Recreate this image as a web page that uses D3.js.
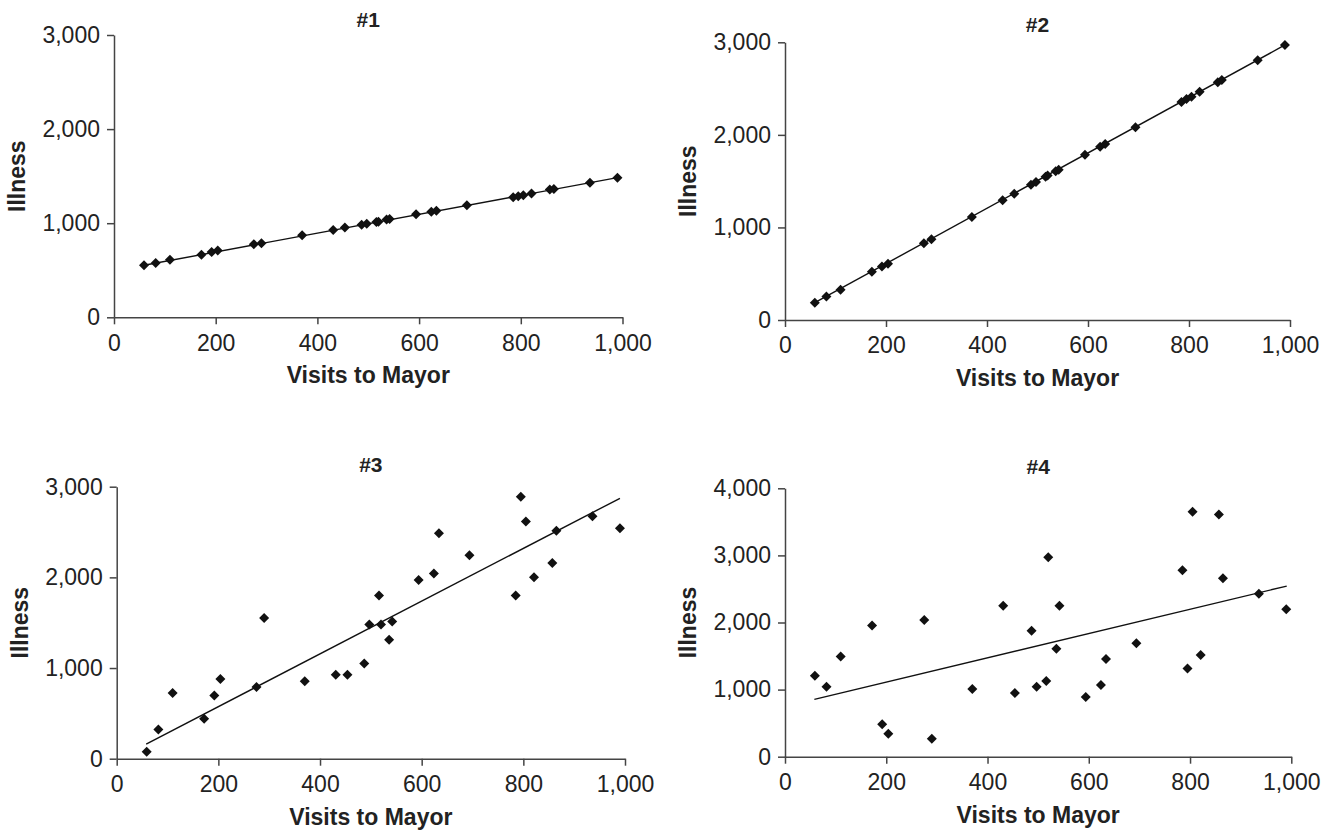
<!DOCTYPE html>
<html>
<head>
<meta charset="utf-8">
<script src="https://cdn.jsdelivr.net/npm/d3@7"></script>
<style>
  body { margin: 0; background: #fff; }
  svg { display: block; font-family: "Liberation Sans", Arial, sans-serif; }
  .tick text { font-size: 23px; fill: #222; }
  .axis path, .axis line { stroke: #444; stroke-width: 1.5; }
  .titre { font-size: 21px; font-weight: bold; fill: #222; }
  .label { font-size: 23px; font-weight: bold; fill: #222; }
</style>
</head>
<body>
<svg class="chart" width="1330" height="831"></svg>
<script>
// visits to mayor (same for the four panels)
const visits = [59, 82, 110, 172, 192, 204, 275, 290, 370, 431, 454, 487, 497, 516, 520, 536, 542, 594, 624, 634, 694, 785, 795, 805, 821, 857, 865, 936, 990];

// illness, one list per panel
const illness1 = [553, 578, 612, 665, 693, 709, 777, 788, 872, 929, 954, 984, 994, 1012, 1016, 1038, 1044, 1095, 1121, 1131, 1190, 1277, 1286, 1297, 1315, 1357, 1364, 1430, 1484];
const illness2 = [187, 255, 326, 520, 578, 608, 830, 872, 1112, 1295, 1365, 1462, 1490, 1547, 1561, 1608, 1624, 1786, 1872, 1901, 2082, 2355, 2387, 2413, 2465, 2568, 2592, 2806, 2971];
const illness3 = [77, 322, 725, 440, 696, 879, 791, 1553, 853, 927, 927, 1051, 1480, 1799, 1480, 1311, 1513, 1971, 2044, 2487, 2245, 1799, 2890, 2615, 2000, 2158, 2513, 2674, 2542];
const illness4 = [1207, 1043, 1495, 1957, 482, 343, 2037, 268, 1008, 2250, 949, 1878, 1043, 1128, 2971, 1609, 2250, 889, 1068, 1456, 1689, 2777, 1316, 3651, 1515, 3611, 2658, 2429, 2196];

// trend line ends [visits, illness]
const trend1 = [[59, 553], [990, 1484]];
const trend2 = [[59, 187], [990, 2971]];
const trend3 = [[58, 161], [990, 2872]];
const trend4 = [[58, 854], [991, 2543]];

const titres = ["#1", "#2", "#3", "#4"];
const xTicks = [0, 200, 400, 600, 800, 1000];
const yTicks3 = [0, 1000, 2000, 3000];
const yTicks4 = [0, 1000, 2000, 3000, 4000];

const xLabel = "Visits to Mayor";
const yLabel = "Illness";

// position of each plot area in the page
const panels = [
  { titre: titres[0], ys: illness1, trend: trend1, yTicks: yTicks3, left: 114, right: 622.5, top: 35, bottom: 317.3, titreY: 20 },
  { titre: titres[1], ys: illness2, trend: trend2, yTicks: yTicks3, left: 785, right: 1290, top: 42.3, bottom: 320, titreY: 25 },
  { titre: titres[2], ys: illness3, trend: trend3, yTicks: yTicks3, left: 116.7, right: 625, top: 486.7, bottom: 758.7, titreY: 465 },
  { titre: titres[3], ys: illness4, trend: trend4, yTicks: yTicks4, left: 785, right: 1291.3, top: 488.3, bottom: 756.7, titreY: 467 }
];

const svg = d3.select(".chart");
const fmt = d3.format(",");

const losange = d3.symbol().type(d3.symbolSquare).size(50);

panels.forEach(p => {
  const x = d3.scaleLinear()
      .domain([0, 1000])
      .range([p.left, p.right]);

  const y = d3.scaleLinear()
      .domain([0, d3.max(p.yTicks)])
      .range([p.bottom, p.top]);

  const g = svg.append("g");

  // axes
  g.append("g")
      .attr("class", "axis")
      .attr("transform", `translate(0, ${p.bottom})`)
      .call(d3.axisBottom(x).tickValues(xTicks).tickFormat(fmt).tickSize(7).tickSizeOuter(0).tickPadding(10));

  g.append("g")
      .attr("class", "axis")
      .attr("transform", `translate(${p.left}, 0)`)
      .call(d3.axisLeft(y).tickValues(p.yTicks).tickFormat(fmt).tickSize(7).tickSizeOuter(0).tickPadding(7));

  // trend line
  g.append("path")
      .datum(p.trend)
      .attr("d", d3.line().x(d => x(d[0])).y(d => y(d[1])))
      .attr("fill", "none")
      .attr("stroke", "#111")
      .attr("stroke-width", 1.4);

  // points
  g.selectAll(".pt")
      .data(visits.map((v, i) => [v, p.ys[i]]))
      .enter()
      .append("path")
      .attr("class", "pt")
      .attr("d", losange)
      .attr("transform", d => `translate(${x(d[0])}, ${y(d[1])}) rotate(45)`)
      .attr("fill", "#111");

  // titles
  g.append("text")
      .attr("class", "titre")
      .attr("x", (p.left + p.right) / 2)
      .attr("y", p.titreY)
      .attr("dy", "0.35em")
      .attr("text-anchor", "middle")
      .text(p.titre);

  g.append("text")
      .attr("class", "label")
      .attr("x", (p.left + p.right) / 2)
      .attr("y", p.bottom + 58)
      .attr("dy", "0.35em")
      .attr("text-anchor", "middle")
      .text(xLabel);

  g.append("text")
      .attr("class", "label")
      .attr("transform", `translate(${p.left - 97}, ${(p.top + p.bottom) / 2}) rotate(-90)`)
      .attr("dy", "0.35em")
      .attr("text-anchor", "middle")
      .text(yLabel);
});
</script>
</body>
</html>
